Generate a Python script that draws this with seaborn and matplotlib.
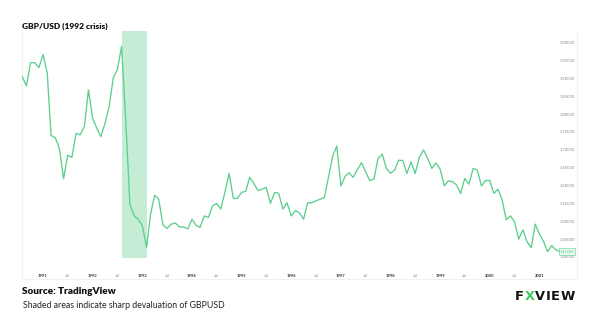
import numpy as np
import pandas as pd
import matplotlib
matplotlib.use("Agg")
import matplotlib.pyplot as plt
import matplotlib.dates as mdates
import matplotlib.transforms as mtrans
import seaborn as sns

# ---- data (monthly GBP/USD) ----
start_month = "1990-08-01"
gbpusd = [1.905, 1.879, 1.944, 1.944, 1.930,
          1.967, 1.914, 1.740, 1.734, 1.704, 1.619, 1.685, 1.679, 1.746, 1.742, 1.765, 1.868,
          1.788, 1.760, 1.737, 1.774, 1.821, 1.902, 1.925, 1.990, 1.778, 1.548, 1.515, 1.506,
          1.487, 1.427, 1.518, 1.573, 1.562, 1.490, 1.480, 1.492, 1.495, 1.484, 1.484, 1.479,
          1.506, 1.488, 1.483, 1.515, 1.511, 1.543, 1.550, 1.534, 1.583, 1.634, 1.564, 1.564,
          1.581, 1.584, 1.623, 1.606, 1.586, 1.590, 1.595, 1.550, 1.581, 1.578, 1.534, 1.552,
          1.515, 1.530, 1.524, 1.506, 1.552, 1.552, 1.557, 1.562, 1.566, 1.623, 1.682, 1.711,
          1.599, 1.626, 1.636, 1.623, 1.644, 1.664, 1.639, 1.614, 1.618, 1.676, 1.688, 1.648,
          1.634, 1.644, 1.671, 1.670, 1.634, 1.666, 1.634, 1.679, 1.700, 1.676, 1.648, 1.663,
          1.646, 1.599, 1.613, 1.611, 1.602, 1.578, 1.620, 1.604, 1.648, 1.644, 1.599, 1.614,
          1.614, 1.578, 1.590, 1.560, 1.504, 1.515, 1.499, 1.450, 1.476, 1.443, 1.426, 1.492,
          1.464, 1.443, 1.415, 1.432, 1.420, 1.415]
crisis_start = "1992-08-01"
crisis_end = "1993-02-01"
y_ticks = [1.40, 1.45, 1.50, 1.55, 1.60, 1.65, 1.70, 1.75, 1.80, 1.85, 1.90, 1.95, 2.00]
x_tick_dates = pd.date_range("1991-01-01", "2001-01-01", freq="6MS")
x_tick_labels = [d.strftime("%Y") if d.month == 1 else "Jul" for d in x_tick_dates]
title = "GBP/USD (1992 crisis)"
source = "Source: TradingView"
note = "Shaded areas indicate sharp devaluation of GBPUSD"

dates = pd.date_range(start_month, periods=len(gbpusd), freq="MS")
df = pd.DataFrame({"date": dates, "rate": gbpusd})

sns.set_theme(style="white")
plt.rcParams["font.family"] = ["Lato", "DejaVu Sans"]

LINE = "#5ccf8c"
SHADE = "#c5edd6"

W, H = 600, 315
fig = plt.figure(figsize=(6, 3.15), dpi=100)
fig.patch.set_facecolor("white")
ax = fig.add_axes([22 / W, 1 - 279 / H, (577 - 22) / W, (279 - 31) / H])

ylo, yhi = 1.3384, 2.0327
ax.set_ylim(ylo, yhi)
ax.set_xlim(pd.Timestamp("1990-07-30"), pd.Timestamp("2001-10-04"))

# shaded crisis area
span_bottom = 1.398
ax.axvspan(pd.Timestamp(crisis_start), pd.Timestamp(crisis_end),
           ymin=(span_bottom - ylo) / (yhi - ylo), ymax=1,
           color=SHADE, lw=0, zorder=1)

sns.lineplot(data=df, x="date", y="rate", ax=ax, color=LINE, linewidth=0.95, zorder=3)
ax.set_xlabel("")
ax.set_ylabel("")

# spines
for s in ["left", "right", "bottom"]:
    ax.spines[s].set_color("#f0f0f0")
    ax.spines[s].set_linewidth(0.8)
ax.spines["top"].set_visible(False)

# y ticks on right, inside
ax.yaxis.tick_right()
ax.set_yticks(y_ticks)
ax.set_yticklabels([f"{v:.5f}" for v in y_ticks])
ax.tick_params(axis="y", length=0, pad=-1.3, labelsize=3.0, labelcolor="#888888")
for lab in ax.get_yticklabels():
    lab.set_horizontalalignment("right")

# x ticks inside
ax.set_xticks(x_tick_dates)
ax.set_xticklabels(x_tick_labels)
ax.tick_params(axis="x", length=0, pad=-3.4, labelsize=3.0)
for lab in ax.get_xticklabels():
    if lab.get_text() == "Jul":
        lab.set_color("#888888")
    else:
        lab.set_color("#333333")
        lab.set_fontweight("bold")

# last price label
last = gbpusd[-1]
ax.annotate(f"{last:.5f}", xy=(0.995, last),
            xycoords=mtrans.blended_transform_factory(ax.transAxes, ax.transData),
            ha="right", va="center", fontsize=2.8, color=LINE,
            bbox=dict(boxstyle="square,pad=0.3", fc="#eafaf0", ec=LINE, lw=0.4),
            zorder=5)

# texts
fig.text(22 / W, 1 - 26 / H, title, fontsize=6.0, fontweight="heavy",
         color="#111111", va="center", ha="left")
fig.text(22 / W, 1 - 291 / H, source, fontsize=7.2, fontweight="heavy",
         color="#111111", va="center", ha="left")
fig.text(23 / W, 1 - 305 / H, note, fontsize=6.3, color="#222222",
         va="center", ha="left")

# logo FXVIEW
fig.canvas.draw()
r = fig.canvas.get_renderer()
x = 515.0
letters = [("F", "#111111"), ("X", "#3ecb5e"), ("V", "#111111"),
           ("I", "#111111"), ("E", "#111111"), ("W", "#111111")]
for ch, col in letters:
    t = fig.text(x / W, 1 - 296 / H, ch, fontsize=9.4, fontweight="heavy",
                 family="DejaVu Sans", color=col, va="center", ha="left")
    bb = t.get_window_extent(r)
    x += bb.width + 0.5

fig.savefig("out.png", dpi=100, facecolor="white")
